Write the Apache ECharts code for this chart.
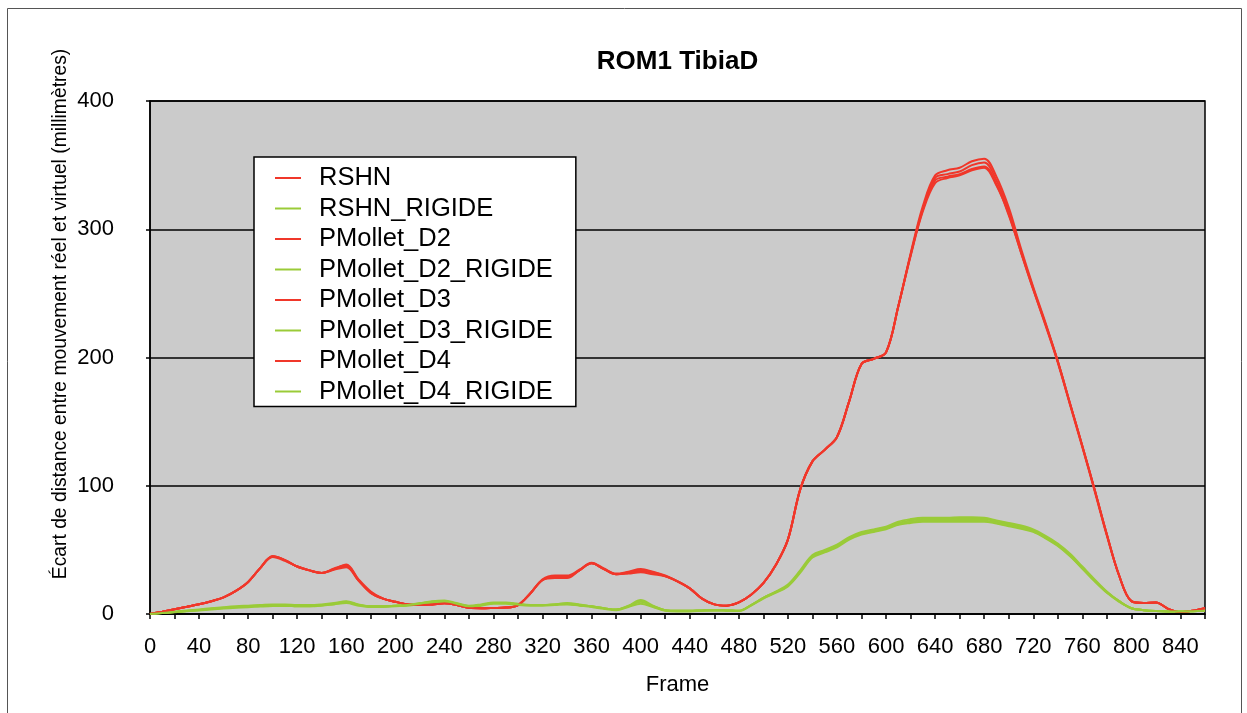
<!DOCTYPE html>
<html>
<head>
<meta charset="utf-8">
<title>ROM1 TibiaD</title>
<script src="https://cdn.jsdelivr.net/npm/echarts@6/dist/echarts.min.js"></script>
<style>
  html, body { margin: 0; padding: 0; background: #ffffff; }
  #chart { width: 1247px; height: 713px; }
</style>
</head>
<body>
<div id="chart"></div>
<script>
// Frame numbers (sampled every 10 frames)
const frames = [0, 10, 20, 30, 40, 50, 60, 70, 80, 90,
  100, 110, 120, 130, 140, 150, 160, 170, 180, 190,
  200, 210, 220, 230, 240, 250, 260, 270, 280, 290,
  300, 310, 320, 330, 340, 350, 360, 370, 380, 390,
  400, 410, 420, 430, 440, 450, 460, 470, 480, 490,
  500, 510, 520, 530, 540, 550, 560, 570, 580, 590,
  600, 610, 620, 630, 640, 650, 660, 670, 680, 690,
  700, 710, 720, 730, 740, 750, 760, 770, 780, 790,
  800, 810, 820, 830, 840, 850, 860];

// Distance gap (mm) per model
const rshn = [0, 1.8, 3.7, 5.6, 7.6, 10, 13, 18, 25, 36,
  45, 42, 37, 34, 32, 35, 37, 26, 16.5, 12,
  9.5, 7.5, 7, 7.5, 8.3, 7, 4.8, 4.5, 4.7, 5,
  7, 16, 26.5, 29, 29, 34, 39.5, 35, 31, 32,
  33.5, 32, 29.5, 25.5, 20, 12, 7.5, 6.5, 9, 15,
  24, 38, 58, 97, 119, 128, 138, 166, 195, 199,
  204, 240, 280, 316, 340, 343, 345, 350, 352, 338,
  314, 283, 254, 226, 197, 164, 131, 97, 62, 30,
  10, 8.5, 9, 4, 1.5, 2.5, 4.5];

const rshnRigide = [0, 0.8, 1.6, 2.4, 3.2, 4, 4.8, 5.5, 6, 6.5,
  7, 7, 6.5, 6.5, 7, 8, 9, 7, 6, 6,
  6.5, 7, 8, 9.5, 10, 8, 6, 7, 8.5, 8.5,
  7.5, 7, 7, 7.5, 8, 7, 6, 4.5, 3.5, 6,
  9.5, 6, 3, 2.5, 2.5, 2.8, 3, 2.8, 2.5, 7,
  12.5, 17, 22, 33, 45, 49, 53, 59, 63, 65,
  67, 71, 73, 74, 74, 74, 74, 74, 74, 72,
  70, 68, 65, 60, 54, 46, 36, 26, 17, 10,
  4.5, 3, 2.3, 2, 2, 2.2, 2.5];

const pmolletD2 = [0, 1.8, 3.7, 5.6, 7.6, 10, 13, 18, 25, 36,
  44.5, 41.5, 37, 34, 32, 34.5, 36.5, 26, 16.5, 12,
  9.5, 7.5, 7, 7.5, 8.3, 7, 4.8, 4.5, 4.7, 5,
  7, 16, 26.5, 28, 28, 34, 39.5, 35, 31, 31.5,
  32.5, 31, 29.5, 25.5, 20, 12, 7.5, 6.5, 9, 15,
  24, 38, 58, 97, 119, 128, 138, 166, 195, 199,
  204, 240, 280, 315, 338, 341, 343, 347, 349, 335,
  311, 282, 253, 226, 197, 164, 131, 97, 62, 30,
  10, 8.5, 9, 4, 1.5, 2.5, 4.5];

const pmolletD2Rigide = [0, 0.9, 1.8, 2.7, 3.6, 4.5, 5.3, 6, 6.5, 7,
  7.5, 7.5, 7, 7, 7.5, 8.5, 10, 7.5, 6, 6,
  6.5, 7, 8.5, 10, 10.5, 8.5, 6.5, 7.5, 9, 9,
  8, 7, 7, 7.5, 8.5, 7.5, 6, 4.5, 3.5, 6.5,
  11, 6.5, 3, 2.5, 2.5, 2.8, 3, 2.8, 2.5, 7,
  12.5, 17.5, 23, 34, 46, 50, 54, 60, 64, 66,
  68, 72, 74, 75, 75, 75, 75.5, 75.5, 75, 73,
  71, 69, 66, 61, 55, 47, 37, 27, 17.5, 10,
  4.5, 3, 2.3, 2, 2, 2.2, 2.5];

const pmolletD3 = [0, 1.8, 3.7, 5.6, 7.6, 10, 13, 18, 25, 36,
  45, 42, 37, 34, 32, 35.5, 38, 26.5, 16.5, 12,
  9.5, 7.5, 7, 7.5, 8.3, 7, 4.8, 4.5, 4.7, 5,
  7, 16, 27, 30, 30, 34.5, 40, 35.5, 31.5, 33,
  35, 33, 30, 25.5, 20, 12, 7.5, 6.5, 9, 15,
  24, 38, 58, 97, 119, 128, 138, 166, 195, 199,
  204, 240, 281, 318, 342, 346, 348, 353, 355, 341,
  317, 285, 255, 227, 197, 164, 131, 97, 62, 30,
  10, 8.5, 9, 4, 1.5, 2.5, 4.5];

const pmolletD3Rigide = [0, 0.7, 1.4, 2.1, 2.8, 3.5, 4.2, 4.8, 5.3, 5.8,
  6.2, 6.3, 6, 6, 6.5, 7.5, 8.5, 6.5, 5.5, 5.5,
  6, 6.5, 7.5, 9, 9.5, 7.5, 5.5, 6.5, 8, 8,
  7, 6.5, 6.5, 7, 7.5, 6.5, 5.5, 4, 3, 5.5,
  8, 5.5, 2.5, 2, 2, 2.5, 2.8, 2.5, 2.3, 6.5,
  12, 16.5, 21.5, 32, 44, 48, 52, 58, 62, 64,
  66, 69.5, 71, 72, 72, 72, 72, 72, 72, 70.5,
  68.5, 66.5, 64, 59, 53, 45, 35.5, 25.5, 16.5, 9.5,
  4.5, 3, 2.3, 2, 2, 2.2, 2.5];

const pmolletD4 = [0, 1.8, 3.7, 5.6, 7.6, 10, 13, 18, 25, 36,
  45, 42, 37, 34, 32, 35, 38.5, 27, 17.5, 12,
  9.5, 7.5, 7, 7.5, 8.3, 7, 4.8, 4.5, 4.7, 5,
  7, 16, 26.5, 29, 29, 34, 39.5, 35, 31, 32.5,
  34.5, 32.5, 29.5, 25.5, 20, 12, 7.5, 6.5, 9, 15,
  24, 38, 58, 97, 119, 128, 138, 166, 195, 199,
  204, 240, 279, 314, 336, 340, 342, 346, 348, 334,
  312, 282, 253, 225, 196, 163, 130, 96, 61, 30,
  10, 8.5, 9, 4, 1.5, 2.5, 4.5];

const pmolletD4Rigide = [0, 0.8, 1.6, 2.4, 3.2, 4, 4.7, 5.3, 5.8, 6.2,
  6.8, 6.8, 6, 6, 6.8, 8, 9.5, 7, 6, 6,
  6.5, 7, 8, 9.5, 10, 8, 6, 7, 8.5, 8.5,
  7.5, 7, 7, 7.5, 8, 7, 6, 4.5, 3.5, 6,
  10, 6, 3, 2.5, 2.5, 2.8, 3, 2.8, 2.5, 7,
  12.5, 17, 22, 33, 45, 49, 53, 59, 63, 65,
  67, 70, 72, 73, 73, 73, 73, 73, 73, 71,
  69, 67, 64.5, 59.5, 53.5, 45.5, 35.5, 26, 17, 10,
  4.5, 3, 2.3, 2, 2, 2.2, 2.5];

const seriesNames = ['RSHN', 'RSHN_RIGIDE', 'PMollet_D2', 'PMollet_D2_RIGIDE',
  'PMollet_D3', 'PMollet_D3_RIGIDE', 'PMollet_D4', 'PMollet_D4_RIGIDE'];
const seriesValues = [rshn, rshnRigide, pmolletD2, pmolletD2Rigide,
  pmolletD3, pmolletD3Rigide, pmolletD4, pmolletD4Rigide];

const RED = '#f0372a';
const GREEN = '#9acb38';
const FONT = '"Liberation Sans", Arial, Helvetica, sans-serif';

const chart = echarts.init(document.getElementById('chart'), null, { renderer: 'canvas' });

const series = seriesNames.map((name, i) => ({
  name: name,
  type: 'line',
  smooth: 0.35,
  showSymbol: false,
  symbol: 'none',
  data: frames.map((f, k) => [f, seriesValues[i][k]]),
  lineStyle: { width: 2, color: i % 2 === 0 ? RED : GREEN },
  itemStyle: { color: i % 2 === 0 ? RED : GREEN },
  animation: false
}));

chart.setOption({
  animation: false,
  backgroundColor: '#ffffff',
  textStyle: { fontFamily: FONT },
  grid: {
    left: 150, right: 42, top: 101, bottom: 99,
    show: true,
    backgroundColor: '#cbcbcb',
    borderColor: '#000000',
    borderWidth: 1.5
  },
  graphic: [
    {
      type: 'rect',
      silent: true,
      z: -10,
      shape: { x: 7.5, y: 8.5, width: 1234, height: 720 },
      style: { fill: 'none', stroke: '#555555', lineWidth: 1 }
    },
    {
      type: 'text',
      x: 677.5, y: 62,
      style: {
        text: 'ROM1 TibiaD',
        font: 'bold 26px ' + FONT,
        fill: '#000000',
        textAlign: 'center',
        textVerticalAlign: 'middle'
      }
    },
    {
      type: 'text',
      x: 677.5, y: 685,
      style: {
        text: 'Frame',
        font: '22px ' + FONT,
        fill: '#000000',
        textAlign: 'center',
        textVerticalAlign: 'middle'
      }
    },
    {
      type: 'text',
      x: 61, y: 314,
      rotation: Math.PI / 2,
      style: {
        text: 'Écart de distance entre mouvement réel et virtuel (millimètres)',
        font: '19.3px ' + FONT,
        fill: '#000000',
        textAlign: 'center',
        textVerticalAlign: 'middle'
      }
    }
  ],
  legend: {
    orient: 'vertical',
    left: 254,
    top: 157,
    data: seriesNames,
    backgroundColor: '#ffffff',
    borderColor: '#000000',
    borderWidth: 1.5,
    padding: [8, 23, 2, 21],
    itemGap: 4.5,
    itemWidth: 26,
    itemHeight: 2,
    icon: 'rect',
    textStyle: { fontSize: 25.5, lineHeight: 25, color: '#000000', padding: [0, 0, 0, 13] }
  },
  xAxis: {
    type: 'value',
    min: 0,
    max: 860,
    interval: 20,
    axisLine: { show: true, lineStyle: { color: '#000000', width: 1.5 } },
    axisTick: { show: true, inside: false, length: 5, lineStyle: { color: '#000000', width: 1.5 } },
    splitLine: { show: false },
    axisLabel: {
      fontSize: 22,
      color: '#000000',
      margin: 22,
      hideOverlap: false,
      showMaxLabel: true,
      formatter: v => (v % 40 === 0 ? String(v) : '')
    }
  },
  yAxis: {
    type: 'value',
    min: 0,
    max: 400,
    interval: 100,
    axisLine: { show: true, lineStyle: { color: '#000000', width: 1.5 } },
    axisTick: { show: true, inside: false, length: 4, lineStyle: { color: '#000000', width: 1.5 } },
    splitLine: { show: true, lineStyle: { color: '#000000', width: 1.5 } },
    axisLabel: { fontSize: 22, color: '#000000', margin: 36 }
  },
  series: series
});
</script>
</body>
</html>
